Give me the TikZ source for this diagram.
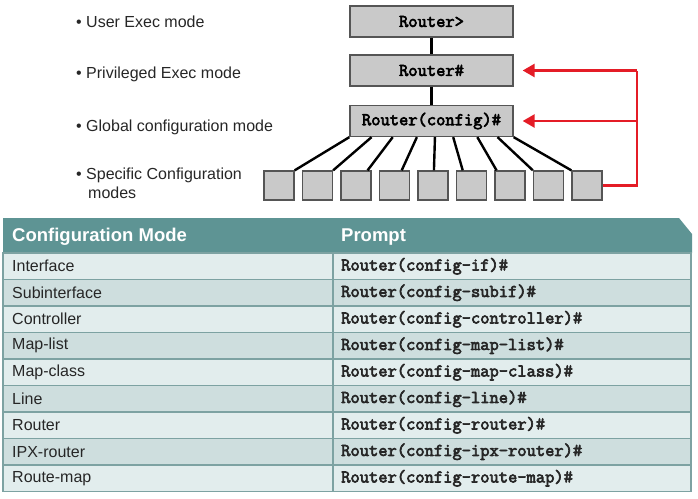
\documentclass[tikz,border=0pt]{standalone}
\usepackage{fontspec}
\setmainfont{Liberation Sans}
\newfontfamily\courfont{Latin Modern Mono}[BoldFont={Latin Modern Mono},BoldFeatures={FakeBold=3.5}]
\usetikzlibrary{calc,arrows.meta}
\definecolor{boxgray}{RGB}{201,201,201}
\definecolor{boxedge}{RGB}{85,85,85}
\definecolor{hdrteal}{RGB}{94,148,148}
\definecolor{rowlight}{RGB}{226,237,237}
\definecolor{rowdark}{RGB}{206,222,222}
\definecolor{gridteal}{RGB}{125,162,162}
\definecolor{arrred}{RGB}{228,28,38}
\begin{document}
\begin{tikzpicture}[x=1pt,y=-1pt,
  modebox/.style={draw=boxedge,line width=1.3pt,fill=boxgray,minimum width=163pt,minimum height=31pt,inner sep=0pt,
    font=\courfont\bfseries\fontsize{18}{20}\selectfont},
  smallbox/.style={draw=boxedge,line width=1.3pt,fill=boxgray,minimum width=30pt,minimum height=29pt,inner sep=0pt},
  fanline/.style={line width=2.4pt,black},
  redl/.style={draw=arrred,line width=2.6pt},
  redtip/.style={-{Triangle[length=12pt,width=13pt]},shorten >=9pt},
  lbl/.style={anchor=west,inner sep=0pt,font=\fontsize{16}{19}\selectfont,text=black!85},
  hdr/.style={anchor=west,inner sep=0pt,font=\bfseries\fontsize{18.5}{22}\selectfont,text=white},
  cell/.style={anchor=west,inner sep=0pt,font=\fontsize{16}{19}\selectfont,text=black!85},
  pcell/.style={anchor=west,inner sep=0pt,font=\courfont\bfseries\fontsize{18}{20}\selectfont,text=black!85},
  grid/.style={draw=gridteal,line width=1.8pt}
]
\useasboundingbox (0,0) rectangle (698,498);

% ---- top labels
\node[lbl] (l1) at (76,22) {\textbullet\ User Exec mode};
\node[lbl] (l2) at (76,74.5) {\textbullet\ Privileged Exec mode};
\node[lbl] (l3) at (76,127) {\textbullet\ Global configuration mode};
\node[lbl] (l4) at (76,175.5) {\textbullet\ Specific Configuration};
\node[lbl] (l5) at (88,193) {modes};

% ---- mode boxes
\node[modebox] (user) at (431.5,21.5) {Router>};
\node[modebox] (priv) at (431.5,70.5) {Router\#};
\node[modebox] (cfg) at (431.5,121) {Router(config)\#};
\draw[fanline] (user.south) -- (priv.north);
\draw[fanline] (priv.south) -- (cfg.north);

% ---- specific boxes
\foreach \i in {0,...,8}{
  \node[smallbox] (b\i) at ({279+38.5*\i},185.5) {};
}
\foreach \i/\f/\g in {0/0/1,1/0.135/1,2/0.264/0.87,3/0.411/0.73,4/0.521/0.53,5/0.632/0.22,6/0.779/0.07,7/0.902/0,8/1/0}{
  \draw[fanline] ($(cfg.south west)!\f!(cfg.south east)$) -- ($(b\i.north west)!\g!(b\i.north east)$);
}

% ---- red return arrows
\coordinate (rt) at (637,70.5);
\draw[redl] (b8.east) -| (rt);
\draw[redl,redtip] (rt) -- (priv.east);
\draw[redl,redtip] (rt |- cfg.east) -- (cfg.east);

% ---- table
\fill[hdrteal] (3,218) -- (679,218) -- (692,234) -- (692,253) -- (3,253) -- cycle;
\node[hdr] (h1) at (12,237) {Configuration Mode};
\node[hdr] (h2) at (341,237) {Prompt};

\foreach \k in {0,...,8}{
  \pgfmathsetmacro{\ytop}{253+26.5*\k}
  \pgfmathsetmacro{\ybot}{253+26.5*(\k+1)}
  \ifodd\k
    \fill[rowdark] (3,\ytop) rectangle (691,\ybot);
  \else
    \fill[rowlight] (3,\ytop) rectangle (691,\ybot);
  \fi
}
\foreach \k in {1,...,8}{
  \draw[grid] (3,{253+26.5*\k}) -- (691,{253+26.5*\k});
}
\draw[grid] (3,253) rectangle (691,491.5);
\draw[grid] (333,253) -- (333,491.5);

\foreach \k/\m/\p in {0/Interface/Router(config-if)\#,
  1/Subinterface/Router(config-subif)\#,
  2/Controller/Router(config-controller)\#,
  3/Map-list/Router(config-map-list)\#,
  4/Map-class/Router(config-map-class)\#,
  5/Line/Router(config-line)\#,
  6/Router/Router(config-router)\#,
  7/IPX-router/Router(config-ipx-router)\#,
  8/Route-map/Router(config-route-map)\#}{
  \node[cell] (m\k) at (12,{253+26.5*(\k+0.5)}) {\m};
  \node[pcell] (p\k) at (341,{253+26.5*(\k+0.5)}) {\p};
}
\end{tikzpicture}
\end{document}
